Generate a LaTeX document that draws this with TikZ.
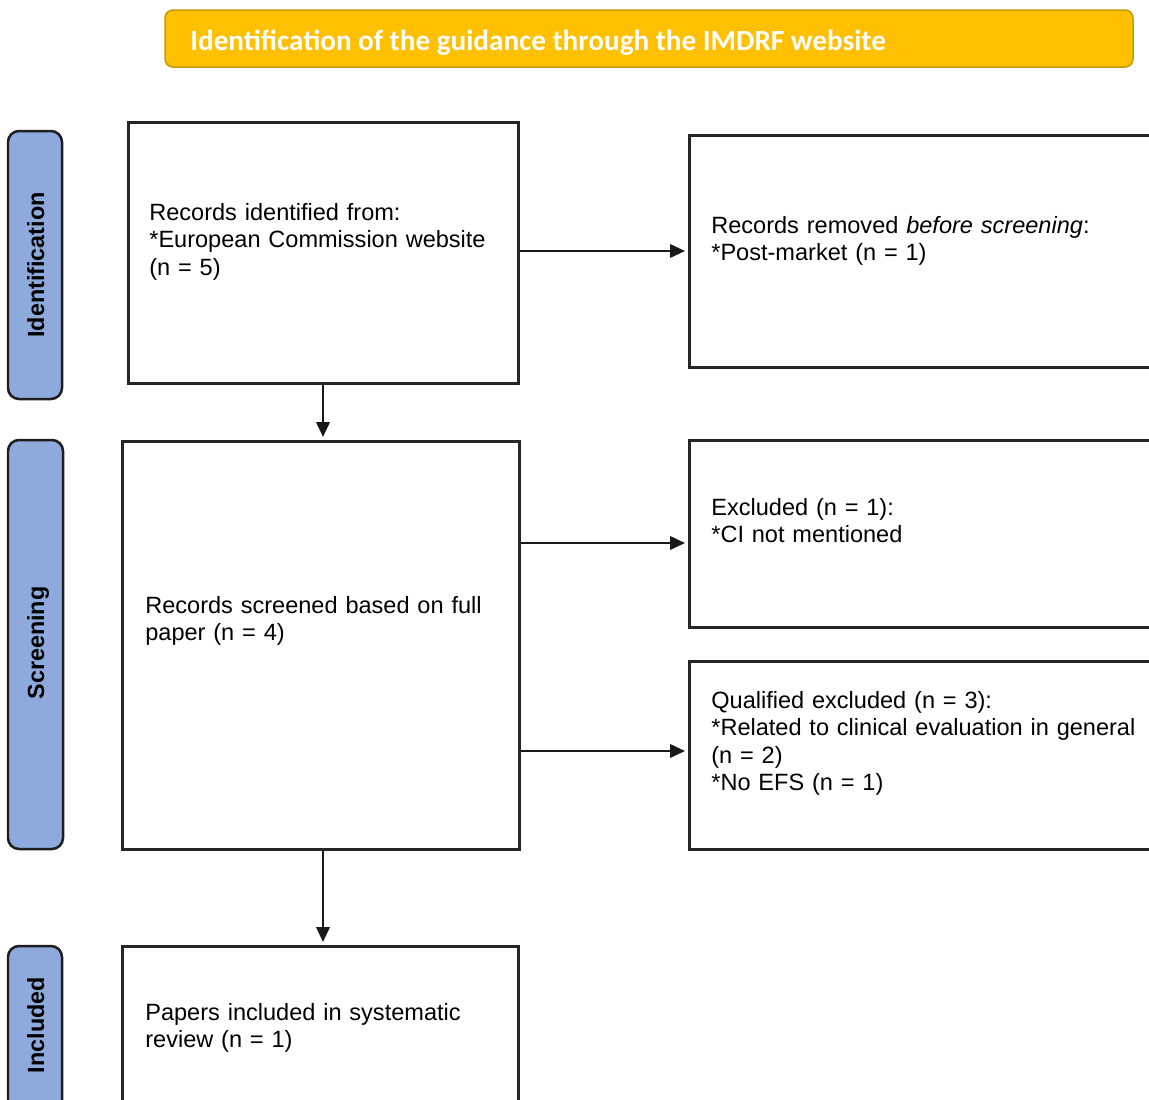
\documentclass[tikz,border=0pt]{standalone}
\usepackage{fontspec}
\setmainfont{Liberation Sans}
\newfontfamily\hdrfont{Carlito}
\usetikzlibrary{arrows.meta,fit}

\definecolor{hdrfill}{HTML}{FFC000}
\definecolor{hdrline}{HTML}{C49A00}
\definecolor{phasefill}{HTML}{8EA9DB}
\definecolor{phaseline}{HTML}{1E1E1E}

\begin{document}
\begin{tikzpicture}[x=0.02cm,y=-0.02cm,
  hdr/.style={draw=hdrline, line width=0.03cm, fill=hdrfill, rounded corners=0.16cm, inner sep=0},
  phase/.style={draw=phaseline, line width=0.05cm, fill=phasefill, rounded corners=0.22cm, inner sep=0},
  phasetext/.style={rotate=90, anchor=base, inner sep=0, font=\fontsize{13.3}{16}\selectfont\bfseries},
  flowbox/.style={draw=black!85, line width=0.06cm, inner sep=0},
  txt/.style={anchor=base west, inner sep=0, text width=9.5cm, align=left,
    font=\fontsize{13.4}{15.7}\selectfont},
  arr/.style={line width=0.045cm, draw=black!90, -{Triangle[length=0.3cm,width=0.27cm]}, shorten >=0.05cm}
]
\clip (0,0) rectangle (1149,1099);
\fill[white] (0,0) rectangle (1149,1099);

% title banner
\node[hdr, fit={(165,10) (1133,67)}] (title) {};
\node[anchor=base west, inner sep=0, text=white, font=\hdrfont\fontsize{16.6}{20}\selectfont\bfseries]
  (titletext) at (190,50) {Identification of the guidance through the IMDRF website};

% phase labels
\node[phase, fit={(8,131) (62,399)}] (pid) {};
\node[phasetext] (pidt) at (44,265) {Identification};
\node[phase, fit={(8,440) (63,849)}] (psc) {};
\node[phasetext] (psct) at (44,643) {Screening};
\node[phase, fit={(8,946) (62,1130)}] (pin) {};
\node[phasetext] (pint) at (44,1025) {Included};

% flow boxes
\node[flowbox, fit={(128,122) (518,383)}] (b1) {};
\node[flowbox, fit={(689,135) (1170,367)}] (b2) {};
\node[flowbox, fit={(122,441) (519,849)}] (b3) {};
\node[flowbox, fit={(689,440) (1170,627)}] (b4) {};
\node[flowbox, fit={(689,661) (1170,849)}] (b5) {};
\node[flowbox, fit={(122,946) (518,1130)}] (b6) {};

% box texts
\node[txt] (t1) at (149,220) {Records identified from:\\{}*European Commission website\\(n = 5)};
\node[txt] (t2) at (711,233) {Records removed \emph{before screening}:\\{}*Post-market (n = 1)};
\node[txt] (t3) at (145,613) {Records screened based on full\\paper (n = 4)};
\node[txt] (t4) at (711,515) {Excluded (n = 1):\\{}*CI not mentioned};
\node[txt] (t5) at (711,708) {Qualified excluded (n = 3):\\{}*Related to clinical evaluation in general\\(n = 2)\\{}*No EFS (n = 1)};
\node[txt] (t6) at (145,1020) {Papers included in systematic\\review (n = 1)};

% connectors
\coordinate (yb2) at (0,251);
\coordinate (yb4) at (0,543);
\coordinate (yb5) at (0,751);
\draw[arr] (b1.east |- yb2) -- (b2.west |- yb2);
\draw[arr] (b1.south) -- (b1.south |- b3.north);
\draw[arr] (b3.east |- yb4) -- (b4.west |- yb4);
\draw[arr] (b3.east |- yb5) -- (b5.west |- yb5);
\draw[arr] (b1.south |- b3.south) -- (b1.south |- b6.north);
\end{tikzpicture}
\end{document}
